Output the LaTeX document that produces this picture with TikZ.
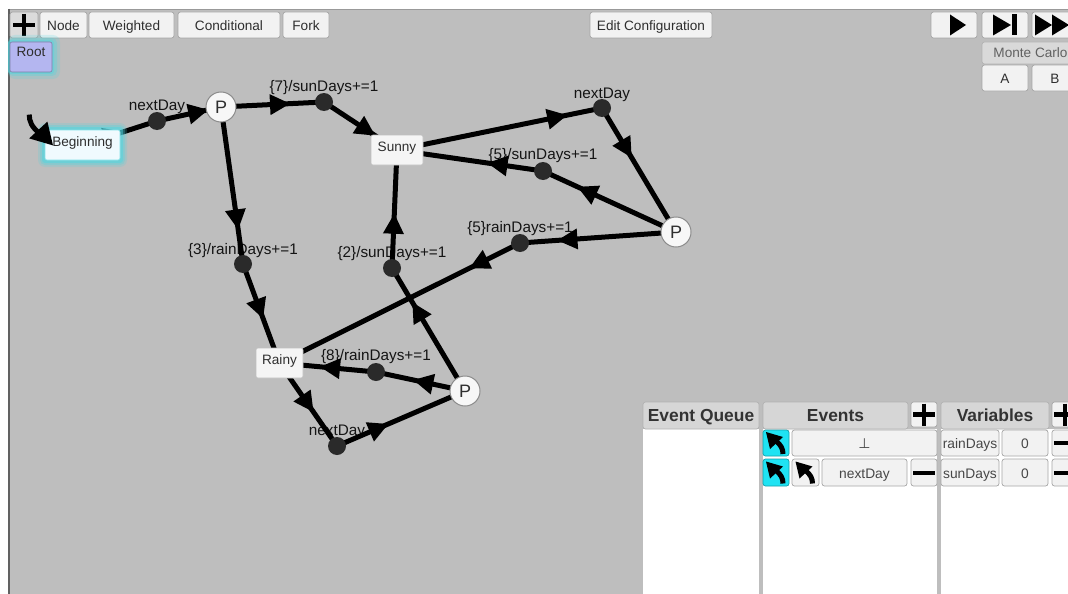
\documentclass[tikz,border=0pt]{standalone}
\usepackage{fontspec}
\setmainfont{Liberation Sans}
\newfontfamily\symfont{DejaVu Sans}
\usetikzlibrary{decorations.markings}
\pgfdeclarelayer{bg}
\pgfdeclarelayer{lbl}
\pgfdeclarelayer{edge}
\pgfsetlayers{bg,lbl,edge,main}
\newcommand\uisize[1]{\fontsize{#1}{#1}\selectfont}

\definecolor{canvas}{HTML}{BEBEBE}
\definecolor{btnfill}{HTML}{F2F2F2}
\definecolor{btnline}{HTML}{A6A6A6}
\definecolor{dotgray}{HTML}{2A2A2A}
\definecolor{glowcyan}{HTML}{4FD6E0}
\definecolor{cyanbtn}{HTML}{1FE3F3}
\definecolor{hdrfill}{HTML}{D6D6D6}
\definecolor{uitext}{HTML}{2E2E2E}
\definecolor{rootfill}{HTML}{B4B6F0}

\tikzset{
  btn/.style={draw=btnline, fill=btnfill, rounded corners=2.5pt, line width=0.7pt,
    inner sep=0pt, text=uitext, font=\uisize{13.6}, text height=11pt, text depth=0pt},
  statebox/.style={draw=black!25, fill=black!4, rounded corners=2pt, line width=0.6pt,
    inner sep=0pt, text=uitext, font=\uisize{13.6}, text height=10pt, text depth=7pt},
  pnode/.style={circle, draw=black!45, fill=black!3, line width=1pt, minimum size=30pt,
    inner sep=0pt, text=uitext, font=\uisize{18}},
  waypt/.style={circle, fill=dotgray, minimum size=18pt, inner sep=0pt},
  edgeln/.style={draw=black, line width=5pt},
  headat/.style={postaction={decorate}, decoration={markings,
    mark=at position #1 with {\fill[black] (0,0) -- (-20,10.5) -- (-20,-10.5) -- cycle;}}},
  lbltext/.style={text=black!92, font=\uisize{15.3}, inner sep=0pt},
  hdr/.style={draw=black!30, fill=hdrfill, rounded corners=2.5pt, line width=0.7pt,
    inner sep=0pt, text=black!80, font=\bfseries\uisize{17.4}, text height=12.5pt, text depth=0pt},
  rowbtn/.style={btn, text=black!72, font=\uisize{13.8}},
  cyanb/.style={btn, fill=cyanbtn, draw=cyanbtn!70!black},
  pics/plusmark/.style={code={
    \draw[black, line width=4.5pt] (-11,0) -- (11,0) (0,-11) -- (0,11);}},
  pics/minusmark/.style={code={
    \draw[black, line width=4pt] (-11,0) -- (11,0);}},
  pics/backicon/.style={code={
    \fill[black] (-10,-11) -- (7,-6) -- (-6,6) -- cycle;
    \draw[black, line width=5pt] (0,-2) .. controls (5,2) and (7,6) .. (7,11);}},
}

\begin{document}
\begin{tikzpicture}[x=1pt, y=-1pt]
\useasboundingbox (0,0) rectangle (1068,594);
\clip (0,0) rectangle (1068,594);

% ---------- window background and panel bodies ----------
\begin{pgfonlayer}{bg}
\fill[white] (0,0) rectangle (1068,594);
\fill[canvas] (8,9) rectangle (1068,594);
\draw[black!40, line width=1pt] (8,9.5) -- (1068,9.5);
\draw[black!62, line width=1.5pt] (8.75,9) -- (8.75,594);
\fill[white] (643,429) rectangle (759,594);
\fill[white] (763,429) rectangle (937,594);
\fill[white] (941,429) rectangle (1068,594);
\end{pgfonlayer}

% ---------- toolbar ----------
\node[btn, fill=black!14, minimum width=28pt, minimum height=26pt] (addbtn) at (24,25) {};
\pic at (addbtn.center) {plusmark};
\node[btn, minimum width=47pt, minimum height=26pt] (nodebtn) at (63.5,25) {Node};
\node[btn, minimum width=85pt, minimum height=26pt] (wbtn) at (131.5,25) {Weighted};
\node[btn, minimum width=102pt, minimum height=26pt] (cbtn) at (229,25) {Conditional};
\node[btn, minimum width=46pt, minimum height=26pt] (fbtn) at (306,25) {Fork};
\node[btn, minimum width=122pt, minimum height=26pt] (editbtn) at (651,25) {Edit Configuration};

\node[btn, minimum width=46pt, minimum height=26pt] (playbtn) at (954,25) {};
\node[btn, minimum width=46pt, minimum height=26pt] (stepbtn) at (1005,25) {};
\node[btn, minimum width=46pt, minimum height=26pt] (ffbtn) at (1055,25) {};
\begin{scope}[shift={(playbtn.center)}]
  \fill[black] (-4,-10.5) -- (12,0) -- (-4,10.5) -- cycle;
\end{scope}
\begin{scope}[shift={(stepbtn.center)}]
  \fill[black] (-12,-10.5) -- (6,0) -- (-12,10.5) -- cycle;
  \fill[black] (7,-10.5) rectangle (12,10.5);
\end{scope}
\begin{scope}[shift={(ffbtn.center)}]
  \fill[black] (-20,-10.5) -- (-3,0) -- (-20,10.5) -- cycle;
  \fill[black] (-3,-10.5) -- (14,0) -- (-3,10.5) -- cycle;
\end{scope}

\node[btn, fill=black!15, draw=black!30, text=black!62, minimum width=97pt, minimum height=22pt, text height=10pt] (mcbtn) at (1030.5,53) {Monte Carlo};
\node[btn, minimum width=46pt, minimum height=26pt] (abtn) at (1005,78) {A};
\node[btn, minimum width=46pt, minimum height=26pt] (bbtn) at (1055,78) {B};

% ---------- root and start state (highlighted) ----------
\fill[glowcyan, opacity=0.2, rounded corners=7pt] (8,35) rectangle (60,79);
\fill[glowcyan, opacity=0.3, rounded corners=5pt] (8,38) rectangle (57,76);
\fill[glowcyan, opacity=0.45, rounded corners=3pt] (8,40) rectangle (54,74);
\node[statebox, fill=rootfill, draw=black!30!rootfill, minimum width=42pt, minimum height=30pt,
  text height=10pt, text depth=10pt] (root) at (31,57) {Root};

\fill[glowcyan, opacity=0.2, rounded corners=7pt] (38,123) rectangle (127,167);
\fill[glowcyan, opacity=0.3, rounded corners=5pt] (40,125) rectangle (125,165);
\fill[glowcyan, opacity=0.5, rounded corners=3pt] (42,127) rectangle (123,163);

\node[statebox, fill=cyan!6, draw=glowcyan!70, minimum width=75pt, minimum height=30pt] (begin) at (82.5,145) {Beginning};

% start marker, drawn over the start state's corner
\pic[rotate=180, scale=1.4] at (39,130) {backicon};

% ---------- states, choice points and transition points ----------
\node[statebox, minimum width=52pt, minimum height=30pt] (sunny) at (397,150) {Sunny};
\node[statebox, minimum width=47pt, minimum height=30pt] (rainy) at (279.5,363) {Rainy};

\node[pnode] (p1) at (221,107) {P};
\node[pnode] (p2) at (676,232) {P};
\node[pnode] (p3) at (465,391) {P};

\node[waypt] (d1) at (157,121) {};
\node[waypt] (d2) at (324,102) {};
\node[waypt] (d3) at (602,108) {};
\node[waypt] (d4) at (543,171) {};
\node[waypt] (d5) at (520,243) {};
\node[waypt] (d6) at (243,264) {};
\node[waypt] (d7) at (392,268) {};
\node[waypt] (d8) at (376,372) {};
\node[waypt] (d9) at (337,446) {};

% ---------- transition labels (under the connectors) ----------
\begin{pgfonlayer}{lbl}
\node[lbltext] (l1) at ([yshift=14pt]d1.center) {nextDay};
\node[lbltext] (l2) at ([yshift=14pt]d2.center) {\{7\}/sunDays+=1};
\node[lbltext] (l3) at ([yshift=13pt]d3.center) {nextDay};
\node[lbltext] (l4) at ([yshift=15pt]d4.center) {\{5\}/sunDays+=1};
\node[lbltext] (l5) at ([yshift=14pt]d5.center) {\{5\}rainDays+=1};
\node[lbltext] (l6) at ([yshift=13pt]d6.center) {\{3\}/rainDays+=1};
\node[lbltext] (l7) at ([yshift=14pt]d7.center) {\{2\}/sunDays+=1};
\node[lbltext] (l8) at ([yshift=15pt]d8.center) {\{8\}/rainDays+=1};
\node[lbltext] (l9) at ([yshift=14pt]d9.center) {nextDay};
\end{pgfonlayer}

% ---------- connectors ----------
\begin{pgfonlayer}{edge}
\draw[edgeln, headat=0.55] (begin.center) -- (d1.center);
\draw[edgeln, headat=0.80] (d1.center) -- (p1.center);
\draw[edgeln, headat=0.67] (p1.center) -- (d2.center);
\draw[edgeln, headat=0.70] (d2.center) -- (sunny.center);
\draw[edgeln, headat=0.83] (sunny.center) -- (d3.center);
\draw[edgeln, headat=0.40] (d3.center) -- (p2.center);
\draw[edgeln, headat=0.74] (p2.center) -- (d4.center);
\draw[edgeln, headat=0.38] (d4.center) -- (sunny.center);
\draw[edgeln, headat=0.76] (p2.center) -- (d5.center);
\draw[edgeln, headat=0.21] (d5.center) -- (rainy.center);
\draw[edgeln, headat=0.78] (p1.center) -- (d6.center);
\draw[edgeln, headat=0.55] (d6.center) -- (rainy.center);
\draw[edgeln, headat=0.72] (p3.center) -- (d7.center);
\draw[edgeln, headat=0.46] (d7.center) -- (sunny.center);
\draw[edgeln, headat=0.58] (p3.center) -- (d8.center);
\draw[edgeln, headat=0.58] (d8.center) -- (rainy.center);
\draw[edgeln, headat=0.59] (rainy.center) -- (d9.center);
\draw[edgeln, headat=0.40] (d9.center) -- (p3.center);
\end{pgfonlayer}

% ---------- event queue / events / variables panels ----------
\node[hdr, minimum width=116pt, minimum height=27pt] (hqueue) at (701,415.5) {Event Queue};
\node[hdr, minimum width=145pt, minimum height=27pt] (hevents) at (835.5,415.5) {Events};
\node[btn, minimum width=26pt, minimum height=25pt] (addev) at (924,414.5) {};
\pic at (addev.center) {plusmark};
\node[hdr, minimum width=108pt, minimum height=27pt] (hvars) at (995,415.5) {Variables};
\node[btn, minimum width=26pt, minimum height=25pt] (addvar) at (1065,414.5) {};
\pic at (addvar.center) {plusmark};

\node[cyanb, minimum width=26pt, minimum height=26pt] (ev1a) at (776,443) {};
\pic at (ev1a.center) {backicon};
\node[rowbtn, minimum width=145pt, minimum height=26pt] (ev1b) at (864.5,443) {\symfont\uisize{14}⊥};
\node[cyanb, minimum width=26pt, minimum height=27pt] (ev2a) at (776,472.5) {};
\pic at (ev2a.center) {backicon};
\node[rowbtn, minimum width=27pt, minimum height=27pt] (ev2b) at (805.5,472.5) {};
\pic at (ev2b.center) {backicon};
\node[rowbtn, minimum width=85pt, minimum height=27pt] (ev2c) at (864.5,472.5) {nextDay};
\node[rowbtn, minimum width=26pt, minimum height=27pt] (ev2d) at (924,472.5) {};
\pic at (ev2d.center) {minusmark};

\node[rowbtn, minimum width=58pt, minimum height=26pt] (v1n) at (970,443) {rainDays};
\node[rowbtn, minimum width=46pt, minimum height=26pt] (v1v) at (1025,443) {0};
\node[rowbtn, minimum width=26pt, minimum height=26pt] (v1m) at (1065,443) {};
\pic at (v1m.center) {minusmark};
\node[rowbtn, minimum width=58pt, minimum height=27pt] (v2n) at (970,472.5) {sunDays};
\node[rowbtn, minimum width=46pt, minimum height=27pt] (v2v) at (1025,472.5) {0};
\node[rowbtn, minimum width=26pt, minimum height=27pt] (v2m) at (1065,472.5) {};
\pic at (v2m.center) {minusmark};
\end{tikzpicture}
\end{document}
